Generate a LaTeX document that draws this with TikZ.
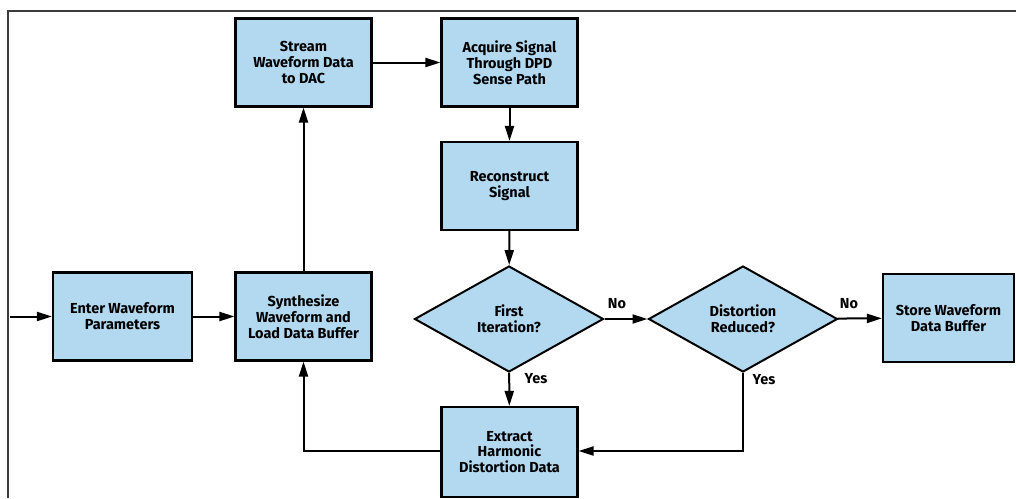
\documentclass[tikz,border=0pt]{standalone}
\usepackage{fontspec}
\setmainfont{Fira Sans}[BoldFont=* Bold]
\usetikzlibrary{arrows.meta,shapes.geometric}
\definecolor{boxblue}{RGB}{179,217,240}
\definecolor{framegray}{RGB}{60,60,60}
\tikzset{
  stepbox/.style={draw=black, fill=boxblue, line width=2.1pt, minimum width=136pt, minimum height=88pt, inner sep=2pt, align=center, font=\fontsize{14.5}{15.8}\selectfont\bfseries},
  decide/.style={draw=black, fill=boxblue, line width=2pt, diamond, aspect=1.79, minimum width=189pt, minimum height=106pt, inner sep=0pt, align=center, font=\fontsize{14.5}{15.8}\selectfont\bfseries},
  flow/.style={line width=2pt, -{Triangle[length=15pt,width=9pt]}},
  lbl/.style={font=\fontsize{14.5}{15.8}\selectfont\bfseries, inner sep=0pt}
}
\begin{document}
\begin{tikzpicture}[x=1pt,y=-1pt]
\useasboundingbox (0,0) rectangle (1016,498);
\draw[framegray, line width=2pt] (8,498) -- (8,11) -- (1016,11);

\node[stepbox] (stream) at (303.5,62.5) {Stream\\Waveform Data\\to DAC};
\node[stepbox] (acq) at (509.5,62.5) {Acquire Signal\\Through DPD\\Sense Path};
\node[stepbox] (rec) at (509.5,186) {Reconstruct\\Signal};
\node[decide] (first) at (509,319) {First\\Iteration?};
\node[decide] (dist) at (743,319) {Distortion\\Reduced?};
\node[stepbox, minimum width=131pt] (store) at (948.5,318) {Store Waveform\\Data Buffer};
\node[stepbox, minimum width=139pt] (enter) at (122.5,316.5) {Enter Waveform\\Parameters};
\node[stepbox] (synth) at (303.5,316.5) {Synthesize\\Waveform and\\Load Data Buffer};
\node[stepbox, minimum height=90pt] (extr) at (509.5,452) {Extract\\Harmonic\\Distortion Data};

\coordinate (in) at (10,316.5);
\coordinate (c1) at (303.5,451);
\coordinate (c2) at (743,451);

\draw[flow] (in) -- (enter);
\draw[flow] (enter) -- (synth);
\draw[flow] (synth) -- (stream);
\draw[flow] (stream) -- (acq);
\draw[flow] (acq) -- (rec);
\draw[flow] (rec) -- (first);
\draw[flow] (first) -- (dist);
\draw[flow] (dist) -- (store);
\draw[flow] (first) -- (extr);
\draw[flow] (extr.west |- c1) -- (c1) -- (synth.south);
\draw[flow] (dist.south) -- (c2) -- (extr.east |- c2);

\node[lbl] (no1) at (617,304) {No};
\node[lbl] (yes1) at (536,379) {Yes};
\node[lbl] (no2) at (849,304) {No};
\node[lbl] (yes2) at (764,380) {Yes};
\end{tikzpicture}
\end{document}
